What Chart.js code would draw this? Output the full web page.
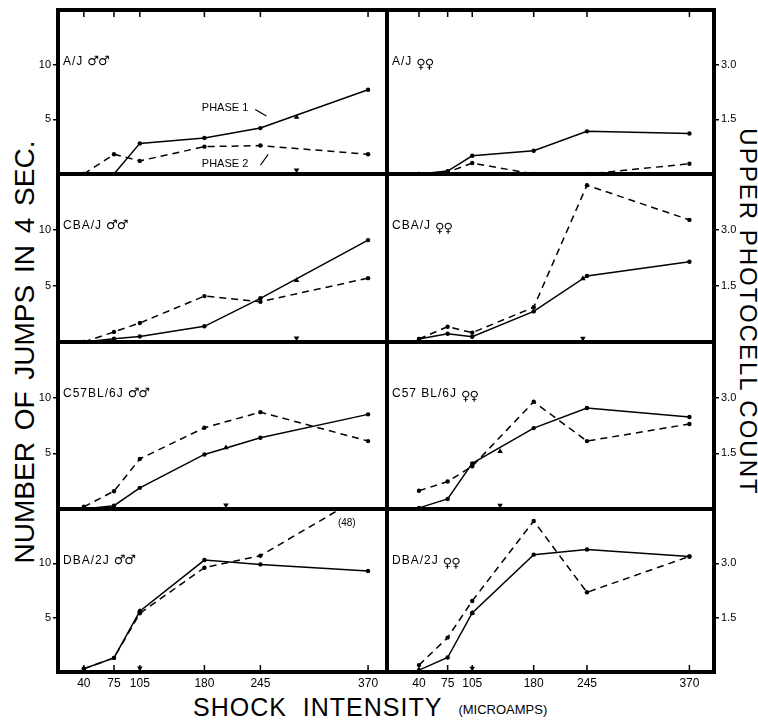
<!DOCTYPE html>
<html>
<head>
<meta charset="utf-8">
<script src="https://cdn.jsdelivr.net/npm/chart.js@4.4.1/dist/chart.umd.min.js"></script>
<style>
body { margin: 0; background: #fff; }
#page { position: relative; width: 758px; height: 721px; overflow: hidden; font-family: "Liberation Sans", Arial, sans-serif; color: #000; }
#page canvas { position: absolute; }
.title { position: absolute; white-space: nowrap; line-height: 1; }
#yTitleLeft { left: 25px; top: 352px; font-size: 28px; word-spacing: 4px; transform: translate(-50%, -50%) rotate(-90deg); }
#yTitleRight { left: 748px; top: 312px; font-size: 24px; letter-spacing: 2px; transform: translate(-50%, -50%) rotate(90deg); }
#xTitle { left: 193px; top: 695px; font-size: 25px; letter-spacing: 1px; word-spacing: 8px; }
#xTitle small { font-size: 13px; letter-spacing: 0; word-spacing: 0; margin-left: 16px; vertical-align: 2px; }
</style>
</head>
<body>
<div id="page">
  <div class="title" id="yTitleLeft">NUMBER OF JUMPS IN 4 SEC.</div>
  <div class="title" id="yTitleRight">UPPER PHOTOCELL COUNT</div>
  <div class="title" id="xTitle">SHOCK INTENSITY<small>(MICROAMPS)</small></div>
</div>
<script>
'use strict';

// shock intensities (microamps)
var SHOCK = [40, 75, 105, 180, 245, 370];

// left column: number of jumps in 4 sec (males)
var AJ_M_P1  = [0, 0, 2.8, 3.3, 4.2, 7.7];
var AJ_M_P2  = [0, 1.8, 1.2, 2.5, 2.6, 1.8];
var CBA_M_P1 = [0, 0.3, 0.5, 1.4, 3.9, 9.1];
var CBA_M_P2 = [0, 0.9, 1.7, 4.1, 3.6, 5.7];
var C57_M_P1 = [0, 0.3, 1.9, 4.9, 6.4, 8.5];
var C57_M_P2 = [0.2, 1.6, 4.5, 7.3, 8.7, 6.1];
var DBA_M_P1 = [0.3, 1.3, 5.6, 10.3, 9.9, 9.3];
var DBA_M_P2 = [0.3, 1.3, 5.4, 9.6, 10.7, 16.5]; // last point runs off scale, true value below
var DBA_M_P2_TRUE = 48;

// right column: upper photocell count (females)
var AJ_F_P1  = [0, 0.08, 0.5, 0.64, 1.17, 1.11];
var AJ_F_P2  = [0, 0.05, 0.3, 0, 0, 0.28];
var CBA_F_P1 = [0.08, 0.22, 0.14, 0.82, 1.77, 2.15];
var CBA_F_P2 = [0.08, 0.41, 0.25, 0.93, 4.2, 3.27];
var C57_F_P1 = [0.03, 0.27, 1.23, 2.18, 2.72, 2.48];
var C57_F_P2 = [0.49, 0.74, 1.15, 2.89, 1.83, 2.29];
var DBA_F_P1 = [0.05, 0.4, 1.63, 3.24, 3.38, 3.19];
var DBA_F_P2 = [0.19, 0.95, 1.96, 4.17, 2.2, 3.19];

// triangle markers (x position, height on phase 1 line), one per panel
var TRI_X = [287, null, 287, 240, 205, 139, 105, 105];
var TRI_Y = [5.2, null, 5.5, 1.7, 5.5, 1.55, 5.6, 1.63];

var PANEL_NAMES = ['A/J', 'A/J', 'CBA/J', 'CBA/J', 'C57BL/6J', 'C57 BL/6J', 'DBA/2J', 'DBA/2J'];
var PANEL_SEX   = ['\u2642\u2642', '\u2640\u2640', '\u2642\u2642', '\u2640\u2640',
	'\u2642\u2642', '\u2640\u2640', '\u2642\u2642', '\u2640\u2640'];

var LEFT_TICKS  = [5, 10];
var RIGHT_TICKS = [1.5, 3.0];

var PHASE1 = [AJ_M_P1, AJ_F_P1, CBA_M_P1, CBA_F_P1, C57_M_P1, C57_F_P1, DBA_M_P1, DBA_F_P1];
var PHASE2 = [AJ_M_P2, AJ_F_P2, CBA_M_P2, CBA_F_P2, C57_M_P2, C57_F_P2, DBA_M_P2, DBA_F_P2];

var FONT = '"Liberation Sans", "DejaVu Sans", Arial, sans-serif';
var ROW_TOPS = [10, 174, 342, 509];
var BOTTOM = 672;
var PAD = 12;

function pairs(xs, ys) {
	return xs.map(function(x, i) { return {x: x, y: ys[i]}; });
}

// frame, inward ticks, panel label and notes
var panelDecor = {
	id: 'panelDecor',
	afterDraw: function(chart, args, opts) {
		var ctx = chart.ctx, a = chart.chartArea, sx = chart.scales.x, sy = chart.scales.y;
		ctx.save();
		ctx.strokeStyle = '#000';
		ctx.fillStyle = '#000';

		if (opts.row === 0 || opts.row === 3) {
			var y0 = opts.row === 0 ? a.top : a.bottom;
			var dir = opts.row === 0 ? 1 : -1;
			ctx.lineWidth = 1.5;
			SHOCK.forEach(function(v) {
				var x = sx.getPixelForValue(v);
				ctx.beginPath();
				ctx.moveTo(x, y0);
				ctx.lineTo(x, y0 + dir * 7);
				ctx.stroke();
			});
		}

		ctx.lineWidth = 4;
		ctx.strokeRect(a.left, a.top, a.width, a.height);

		// strain name, then the sex symbols a bit larger
		var lx = a.left + 5, ly = a.top + 55;
		ctx.font = '12px ' + FONT;
		ctx.letterSpacing = '1px';
		ctx.textBaseline = 'alphabetic';
		ctx.fillText(opts.name, lx, ly);
		lx += ctx.measureText(opts.name).width + 4;
		ctx.font = '13px "DejaVu Sans", sans-serif';
		ctx.letterSpacing = '-1px';
		ctx.fillText(opts.sex, lx, ly + (opts.female ? 3 : 0));

		ctx.letterSpacing = '0px';
		(opts.notes || []).forEach(function(n) {
			ctx.font = n.size + 'px ' + FONT;
			ctx.textBaseline = 'middle';
			ctx.fillText(n.text, sx.getPixelForValue(n.x), sy.getPixelForValue(n.y));
		});
		ctx.lineWidth = 1.2;
		(opts.leaders || []).forEach(function(l) {
			ctx.beginPath();
			ctx.moveTo(sx.getPixelForValue(l[0]), sy.getPixelForValue(l[1]));
			ctx.lineTo(sx.getPixelForValue(l[2]), sy.getPixelForValue(l[3]));
			ctx.stroke();
		});
		ctx.restore();
	}
};

function makePanel(idx) {
	var row = Math.floor(idx / 2), col = idx % 2;
	var left = col === 0 ? 0 : 387 - PAD;
	var width = col === 0 ? 387 + PAD : 758 - left;
	var top = ROW_TOPS[row] - PAD;
	var last = row === 3;
	var height = last ? (BOTTOM - ROW_TOPS[row]) + PAD + 24 : (ROW_TOPS[row + 1] - ROW_TOPS[row]) + 2 * PAD;

	var canvas = document.createElement('canvas');
	canvas.width = width;
	canvas.height = height;
	canvas.style.left = left + 'px';
	canvas.style.top = top + 'px';
	document.getElementById('page').appendChild(canvas);

	var lineStyle = {
		borderColor: '#000', borderWidth: 1.5, pointRadius: 2.2, pointBackgroundColor: '#000',
		pointBorderWidth: 0, tension: 0, fill: false
	};
	var datasets = [
		Object.assign({label: 'Phase 1', data: pairs(SHOCK, PHASE1[idx])}, lineStyle),
		Object.assign({label: 'Phase 2', data: pairs(SHOCK, PHASE2[idx]), borderDash: [7, 5]}, lineStyle)
	];
	if (TRI_X[idx] !== null) {
		var base = col === 0 ? 0.35 : 0.1;
		datasets.push({data: [{x: TRI_X[idx], y: TRI_Y[idx]}], showLine: false, pointStyle: 'triangle',
			pointRadius: 3.2, pointBackgroundColor: '#000', pointBorderWidth: 0});
		datasets.push({data: [{x: TRI_X[idx], y: base}], showLine: false, pointStyle: 'triangle', pointRotation: 180,
			pointRadius: 3.2, pointBackgroundColor: '#000', pointBorderWidth: 0});
	}

	var notes = [], leaders = [];
	if (idx === 0) {
		notes = [{text: 'PHASE 1', x: 177, y: 6.0, size: 11}, {text: 'PHASE 2', x: 177, y: 0.9, size: 11}];
		leaders = [[239, 5.9, 252, 5.3], [245, 0.8, 254, 1.8]];
	}
	if (idx === 6) {
		notes = [{text: '(' + DBA_M_P2_TRUE + ')', x: 335, y: 13.7, size: 10}];
	}

	new Chart(canvas, {
		type: 'line',
		data: {datasets: datasets},
		options: {
			responsive: false,
			animation: false,
			events: [],
			layout: {padding: {top: PAD, bottom: last ? 0 : PAD, left: col === 0 ? 0 : PAD, right: col === 0 ? PAD : 0}},
			plugins: {
				legend: {display: false},
				tooltip: {enabled: false},
				panelDecor: {row: row, name: PANEL_NAMES[idx], sex: PANEL_SEX[idx], female: col === 1,
					notes: notes, leaders: leaders}
			},
			scales: {
				x: {
					type: 'linear',
					min: col === 0 ? 10 : 1,
					max: col === 0 ? 392 : 400,
					display: last,
					afterBuildTicks: function(s) { s.ticks = SHOCK.map(function(v) { return {value: v}; }); },
					afterFit: function(s) { s.height = last ? 24 : 0; },
					ticks: {color: '#000', font: {size: 12, family: FONT}, padding: 4, maxRotation: 0, autoSkip: false},
					grid: {drawOnChartArea: false, drawTicks: false},
					border: {display: false}
				},
				y: {
					type: 'linear',
					position: col === 0 ? 'left' : 'right',
					min: 0,
					max: col === 0 ? 15 : 4.5,
					afterBuildTicks: function(s) {
						s.ticks = (col === 0 ? LEFT_TICKS : RIGHT_TICKS).map(function(v) { return {value: v}; });
					},
					afterFit: function(s) { s.width = col === 0 ? 58 : 44; },
					ticks: {
						color: '#000', font: {size: 11, family: FONT}, padding: 2,
						callback: function(v) { return col === 0 ? String(v) : v.toFixed(1); }
					},
					grid: {drawOnChartArea: false, drawTicks: true, tickLength: 5, color: '#000', lineWidth: 1.5},
					border: {display: false}
				}
			}
		},
		plugins: [panelDecor]
	});
}

for (var i = 0; i < 8; i++) {
	makePanel(i);
}
</script>
</body>
</html>
